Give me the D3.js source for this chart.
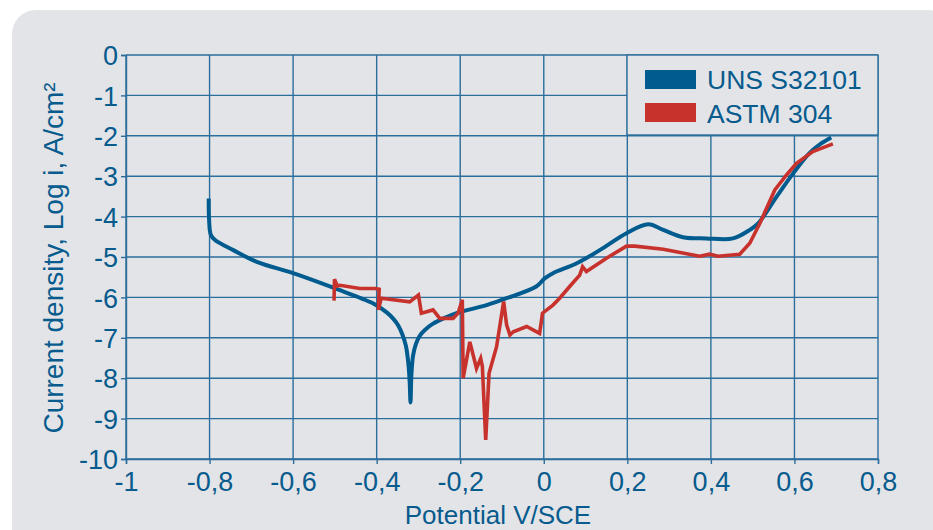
<!DOCTYPE html>
<html>
<head>
<meta charset="utf-8">
<script src="https://cdn.jsdelivr.net/npm/d3@7"></script>
<style>
  body { margin: 0; background: #fff; }
  svg { display: block; }
</style>
</head>
<body>
<svg id="chart"></svg>
<script>
// UNS S32101 curve, [potential V, log i]
const unsData = [
  [-0.802,-3.55],[-0.801,-4.10],[-0.797,-4.45],[-0.787,-4.58],[-0.743,-4.83],[-0.687,-5.12],
  [-0.600,-5.40],[-0.504,-5.76],[-0.408,-6.15],[-0.376,-6.37],[-0.360,-6.53],[-0.348,-6.70],
  [-0.338,-6.93],[-0.330,-7.20],[-0.324,-7.65],[-0.321,-8.10],[-0.319,-8.60],[-0.317,-7.95],
  [-0.313,-7.45],[-0.306,-7.15],[-0.297,-6.95],[-0.284,-6.80],[-0.265,-6.65],[-0.240,-6.52],
  [-0.209,-6.39],[-0.137,-6.19],[-0.089,-6.02],[-0.018,-5.73],[0.002,-5.53],[0.022,-5.40],
  [0.078,-5.16],[0.134,-4.83],[0.198,-4.41],[0.250,-4.19],[0.286,-4.33],[0.333,-4.51],
  [0.389,-4.54],[0.453,-4.54],[0.493,-4.33],[0.513,-4.17],[0.557,-3.51],[0.597,-2.93],
  [0.636,-2.43],[0.664,-2.19],[0.688,-2.04]
]
// ASTM 304 curve
const astmData = [
  [-0.502,-6.08],[-0.501,-5.55],[-0.494,-5.72],[-0.488,-5.70],[-0.440,-5.78],[-0.404,-5.78],
  [-0.394,-5.80],[-0.396,-6.31],[-0.389,-6.02],[-0.321,-6.11],[-0.300,-5.94],[-0.293,-6.39],
  [-0.265,-6.31],[-0.249,-6.52],[-0.217,-6.52],[-0.205,-6.39],[-0.195,-6.06],[-0.193,-8.00],
  [-0.177,-7.10],[-0.161,-7.76],[-0.151,-7.51],[-0.147,-7.71],[-0.139,-9.53],[-0.131,-7.88],
  [-0.113,-7.22],[-0.096,-6.10],[-0.089,-6.68],[-0.081,-6.93],[-0.073,-6.85],[-0.041,-6.72],
  [-0.010,-6.89],[-0.003,-6.39],[0.022,-6.19],[0.038,-6.02],[0.062,-5.73],[0.086,-5.45],
  [0.093,-5.24],[0.102,-5.36],[0.150,-5.03],[0.198,-4.73],[0.218,-4.73],[0.286,-4.81],
  [0.373,-4.98],[0.397,-4.93],[0.417,-4.98],[0.469,-4.93],[0.493,-4.66],[0.517,-4.17],
  [0.553,-3.34],[0.581,-2.97],[0.605,-2.68],[0.644,-2.39],[0.692,-2.20]
]
const xTicks = [-1,-0.8,-0.6,-0.4,-0.2,0,0.2,0.4,0.6,0.8]
const yTicks = [0,-1,-2,-3,-4,-5,-6,-7,-8,-9,-10]
const seriesNames = ["UNS S32101","ASTM 304"]
const seriesColors = ["#005b8f","#c8322d"]

const width = 933
const height = 530
const marginLeft = 126
const marginRight = 878
const marginTop = 55
const marginBottom = 459
const ink = "#075b8d"
const gridColor = "#2b6e9c"
const panel = "#e3e4e8"

const svg = d3.select("#chart").attr("width",width).attr("height",height)

svg.append("rect")
  .attr("x",12).attr("y",10).attr("width",940).attr("height",560)
  .attr("rx",24).attr("fill",panel)

const x = d3.scaleLinear().domain([-1,0.8]).range([marginLeft,marginRight])
const y = d3.scaleLinear().domain([-10,0]).range([marginBottom,marginTop])

// hyphen minus and decimal comma, like the original
const fmtX = d => (d===0 || d===-1) ? String(d) : d.toFixed(1).replace(".",",")

// grid
svg.append("g").selectAll("line").data(xTicks).join("line")
  .attr("x1",d=>x(d)).attr("x2",d=>x(d))
  .attr("y1",marginTop).attr("y2",marginBottom)
  .attr("stroke",gridColor).attr("stroke-width",1.4)
svg.append("g").selectAll("line").data(yTicks).join("line")
  .attr("x1",marginLeft).attr("x2",marginRight)
  .attr("y1",d=>y(d)).attr("y2",d=>y(d))
  .attr("stroke",gridColor).attr("stroke-width",1.4)

const font = "'Liberation Sans',Arial,sans-serif"

const xAxis = svg.append("g")
  .attr("transform",`translate(0,${marginBottom})`)
  .call(d3.axisBottom(x).tickValues(xTicks).tickFormat(fmtX).tickSize(5).tickPadding(8))
const yAxis = svg.append("g")
  .attr("transform",`translate(${marginLeft},0)`)
  .call(d3.axisLeft(y).tickValues(yTicks).tickFormat(d=>String(d)).tickSize(5).tickPadding(3))

for (const ax of [xAxis,yAxis]) {
  ax.select(".domain").attr("stroke",gridColor).attr("stroke-width",1.4)
  ax.selectAll(".tick line").attr("stroke",gridColor).attr("stroke-width",1.4)
  ax.selectAll(".tick text").attr("fill",ink)
    .style("font-family",font).style("font-size","27px")
}
yAxis.selectAll(".tick text").attr("dy","0.36em")

// lines
const smooth = d3.line().x(d=>x(d[0])).y(d=>y(d[1])).curve(d3.curveCatmullRom.alpha(0.5))
const jagged = d3.line().x(d=>x(d[0])).y(d=>y(d[1]))
svg.append("path").datum(unsData)
  .attr("d",smooth).attr("fill","none")
  .attr("stroke",seriesColors[0]).attr("stroke-width",4).attr("stroke-linejoin","round")
svg.append("path").datum(astmData)
  .attr("d",jagged).attr("fill","none")
  .attr("stroke",seriesColors[1]).attr("stroke-width",3.6).attr("stroke-linejoin","miter")

// legend
const legend = svg.append("g")
legend.append("rect")
  .attr("x",627).attr("y",marginTop).attr("width",marginRight-627).attr("height",80)
  .attr("fill",panel).attr("stroke",gridColor).attr("stroke-width",1.4)
seriesNames.forEach((name,i)=>{
  legend.append("rect")
    .attr("x",645).attr("y",70+i*33).attr("width",51).attr("height",19)
    .attr("fill",seriesColors[i])
  legend.append("text")
    .attr("x",707).attr("y",89+i*34)
    .attr("fill",ink)
    .style("font-family",font).style("font-size","26.5px")
    .text(name)
})

// axis titles
svg.append("text")
  .attr("transform",`translate(63,258) rotate(-90)`)
  .attr("text-anchor","middle").attr("fill",ink)
  .style("font-family",font).style("font-size","28px")
  .text("Current density, Log i, A/cm²")
svg.append("text")
  .attr("x",498).attr("y",524)
  .attr("text-anchor","middle").attr("fill",ink)
  .style("font-family",font).style("font-size","26px")
  .text("Potential V/SCE")
</script>
</body>
</html>
